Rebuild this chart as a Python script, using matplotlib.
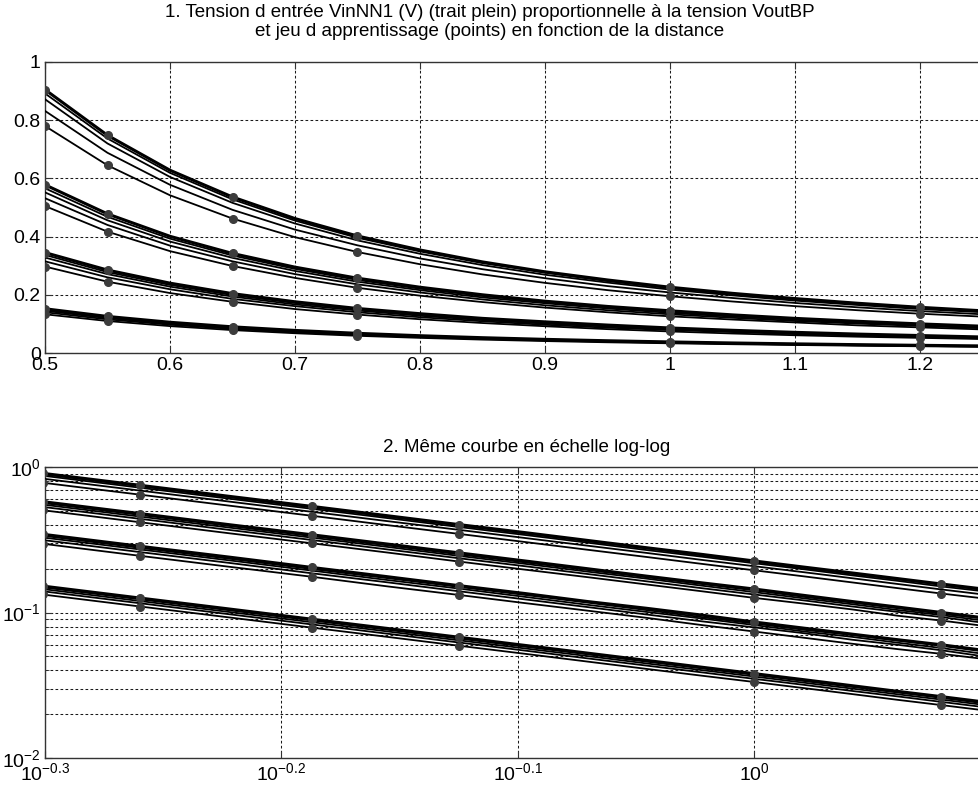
import matplotlib
matplotlib.use("Agg")
import matplotlib.pyplot as plt
from matplotlib.ticker import FixedLocator, NullLocator, LogLocator, NullFormatter, FixedFormatter

plt.rcParams['font.family'] = ['Liberation Sans', 'DejaVu Sans']
plt.rcParams['mathtext.fontset'] = 'custom'
plt.rcParams['mathtext.rm'] = 'Liberation Sans'
plt.rcParams['mathtext.it'] = 'Liberation Sans:italic'
plt.rcParams['mathtext.bf'] = 'Liberation Sans:bold'

# ---------------- data ----------------
distance = [0.5, 0.55, 0.6, 0.65, 0.7, 0.75, 0.8, 0.85, 0.9, 0.95,
            1.0, 1.05, 1.1, 1.15, 1.2, 1.25]

group_a = [
    [0.905, 0.748, 0.628, 0.536, 0.462, 0.402, 0.354, 0.313, 0.279, 0.251, 0.226, 0.205, 0.187, 0.171, 0.157, 0.145],
    [0.892, 0.737, 0.619, 0.528, 0.455, 0.396, 0.349, 0.309, 0.276, 0.247, 0.223, 0.202, 0.184, 0.169, 0.155, 0.143],
    [0.872, 0.720, 0.605, 0.516, 0.445, 0.387, 0.341, 0.302, 0.269, 0.242, 0.218, 0.198, 0.180, 0.165, 0.151, 0.140],
    [0.832, 0.688, 0.578, 0.492, 0.424, 0.370, 0.325, 0.288, 0.257, 0.230, 0.208, 0.189, 0.172, 0.157, 0.144, 0.133],
    [0.780, 0.645, 0.542, 0.462, 0.398, 0.347, 0.305, 0.270, 0.241, 0.216, 0.195, 0.177, 0.161, 0.147, 0.135, 0.125],
]
group_b = [
    [0.578, 0.478, 0.401, 0.342, 0.295, 0.257, 0.226, 0.200, 0.178, 0.160, 0.145, 0.131, 0.119, 0.109, 0.100, 0.092],
    [0.566, 0.468, 0.393, 0.335, 0.289, 0.251, 0.221, 0.196, 0.175, 0.157, 0.142, 0.128, 0.117, 0.107, 0.098, 0.091],
    [0.552, 0.456, 0.383, 0.327, 0.282, 0.245, 0.216, 0.191, 0.171, 0.153, 0.138, 0.125, 0.114, 0.104, 0.096, 0.088],
    [0.532, 0.440, 0.369, 0.315, 0.271, 0.236, 0.208, 0.184, 0.164, 0.147, 0.133, 0.121, 0.110, 0.101, 0.093, 0.085],
    [0.505, 0.417, 0.350, 0.299, 0.258, 0.224, 0.197, 0.175, 0.156, 0.140, 0.126, 0.115, 0.105, 0.095, 0.088, 0.081],
]
group_c = [
    [0.345, 0.285, 0.240, 0.204, 0.176, 0.153, 0.135, 0.119, 0.107, 0.096, 0.086, 0.078, 0.071, 0.065, 0.060, 0.055],
    [0.337, 0.278, 0.234, 0.199, 0.172, 0.150, 0.132, 0.117, 0.104, 0.093, 0.084, 0.076, 0.070, 0.064, 0.059, 0.054],
    [0.328, 0.271, 0.228, 0.194, 0.167, 0.146, 0.128, 0.113, 0.101, 0.091, 0.082, 0.074, 0.068, 0.062, 0.057, 0.052],
    [0.315, 0.260, 0.219, 0.186, 0.161, 0.140, 0.123, 0.109, 0.097, 0.087, 0.079, 0.072, 0.065, 0.060, 0.055, 0.050],
    [0.297, 0.245, 0.206, 0.176, 0.151, 0.132, 0.116, 0.103, 0.092, 0.082, 0.074, 0.067, 0.061, 0.056, 0.052, 0.048],
]
group_d = [
    [0.1520, 0.1256, 0.1056, 0.0899, 0.0776, 0.0676, 0.0594, 0.0526, 0.0469, 0.0421, 0.0380, 0.0345, 0.0314, 0.0287, 0.0264, 0.0243],
    [0.1490, 0.1231, 0.1035, 0.0882, 0.0760, 0.0662, 0.0582, 0.0516, 0.0460, 0.0413, 0.0373, 0.0338, 0.0308, 0.0282, 0.0259, 0.0238],
    [0.1450, 0.1198, 0.1007, 0.0858, 0.0740, 0.0644, 0.0566, 0.0502, 0.0447, 0.0402, 0.0363, 0.0329, 0.0300, 0.0274, 0.0252, 0.0232],
    [0.1400, 0.1157, 0.0972, 0.0828, 0.0714, 0.0622, 0.0547, 0.0484, 0.0432, 0.0388, 0.0350, 0.0318, 0.0289, 0.0265, 0.0243, 0.0224],
    [0.1330, 0.1099, 0.0924, 0.0787, 0.0679, 0.0591, 0.0520, 0.0460, 0.0410, 0.0368, 0.0333, 0.0302, 0.0275, 0.0251, 0.0231, 0.0213],
]
groups = [group_a, group_b, group_c, group_d]

# training-set distances (points on first and last curve of each group)
train_distance = [0.5, 0.55, 0.65, 0.75, 1.0, 1.2]

x_ticks_lin = [0.5, 0.6, 0.7, 0.8, 0.9, 1.0, 1.1, 1.2]
x_labels_lin = ['0.5', '0.6', '0.7', '0.8', '0.9', '1', '1.1', '1.2']
y_ticks_lin = [0, 0.2, 0.4, 0.6, 0.8, 1.0]
y_labels_lin = ['0', '0.2', '0.4', '0.6', '0.8', '1']
x_ticks_log = [10 ** -0.3, 10 ** -0.2, 10 ** -0.1, 1.0]
x_labels_log = [r'$10^{-0.3}$', r'$10^{-0.2}$', r'$10^{-0.1}$', r'$10^{0}$']
y_ticks_log = [0.01, 0.1, 1.0]
y_labels_log = [r'$10^{-2}$', r'$10^{-1}$', r'$10^{0}$']

title1 = ("1. Tension d entrée VinNN1 (V) (trait plein) proportionnelle à la tension VoutBP\n"
          "et jeu d apprentissage (points) en fonction de la distance")
title2 = "2. Même courbe en échelle log-log"

# ---------------- figure ----------------
W, H = 979, 792
fig = plt.figure(figsize=(W / 100, H / 100), dpi=100)

left_px, right_px = 45, 985
ax1 = fig.add_axes([left_px / W, (H - 353) / H, (right_px - left_px) / W, 291 / H])
ax2 = fig.add_axes([left_px / W, (H - 758) / H, (right_px - left_px) / W, 291 / H])

idx = [distance.index(d) for d in train_distance]
grid_kw = dict(color='#1a1a1a', linestyle=(0, (2.6, 2.2)), linewidth=0.75)
dot_color = '#3c3c3c'

for ax in (ax1, ax2):
    for g in groups:
        for k, curve in enumerate(g):
            ax.plot(distance, curve, color='black', lw=2.2 if k == 0 else 1.3,
                    solid_joinstyle='round', zorder=3)
        for curve in (g[0], g[-1]):
            ax.plot([distance[i] for i in idx], [curve[i] for i in idx],
                    linestyle='none', marker='o', ms=5.5, color=dot_color,
                    markeredgecolor=dot_color, zorder=4)
    for s in ax.spines.values():
        s.set_color('#333333')
        s.set_linewidth(1.0)
    ax.tick_params(which='both', direction='in', top=True, right=True,
                   labelsize=14, colors='#333333', labelcolor='black')
    ax.tick_params(which='major', length=5, pad=3)
    ax.tick_params(which='minor', length=3)

# linear axes
ax1.set_xlim(0.5, 1.252)
ax1.set_ylim(0, 1)
ax1.xaxis.set_major_locator(FixedLocator(x_ticks_lin))
ax1.xaxis.set_major_formatter(FixedFormatter(x_labels_lin))
ax1.yaxis.set_major_locator(FixedLocator(y_ticks_lin))
ax1.yaxis.set_major_formatter(FixedFormatter(y_labels_lin))
ax1.grid(True, which='major', **grid_kw)
ax1.set_axisbelow(True)

# log-log axes
ax2.set_xscale('log')
ax2.set_yscale('log')
ax2.set_xlim(10 ** -0.3, 1.252)
ax2.set_ylim(0.01, 1.0)
ax2.xaxis.set_major_locator(FixedLocator(x_ticks_log))
ax2.xaxis.set_major_formatter(FixedFormatter(x_labels_log))
ax2.xaxis.set_minor_locator(NullLocator())
ax2.yaxis.set_major_locator(FixedLocator(y_ticks_log))
ax2.yaxis.set_major_formatter(FixedFormatter(y_labels_log))
ax2.yaxis.set_minor_locator(LogLocator(base=10, subs=[2, 3, 4, 5, 6, 7, 8, 9]))
ax2.yaxis.set_minor_formatter(NullFormatter())
ax2.grid(True, which='both', axis='y', **grid_kw)
ax2.grid(True, which='major', axis='x', **grid_kw)
ax2.set_axisbelow(True)

fig.text(490 / W, (H - 22) / H, title1, ha='center', va='center',
         fontsize=13.5, linespacing=1.1)
fig.text(527 / W, (H - 447) / H, title2, ha='center', va='center', fontsize=13.5)

fig.savefig('out.png', dpi=100)
